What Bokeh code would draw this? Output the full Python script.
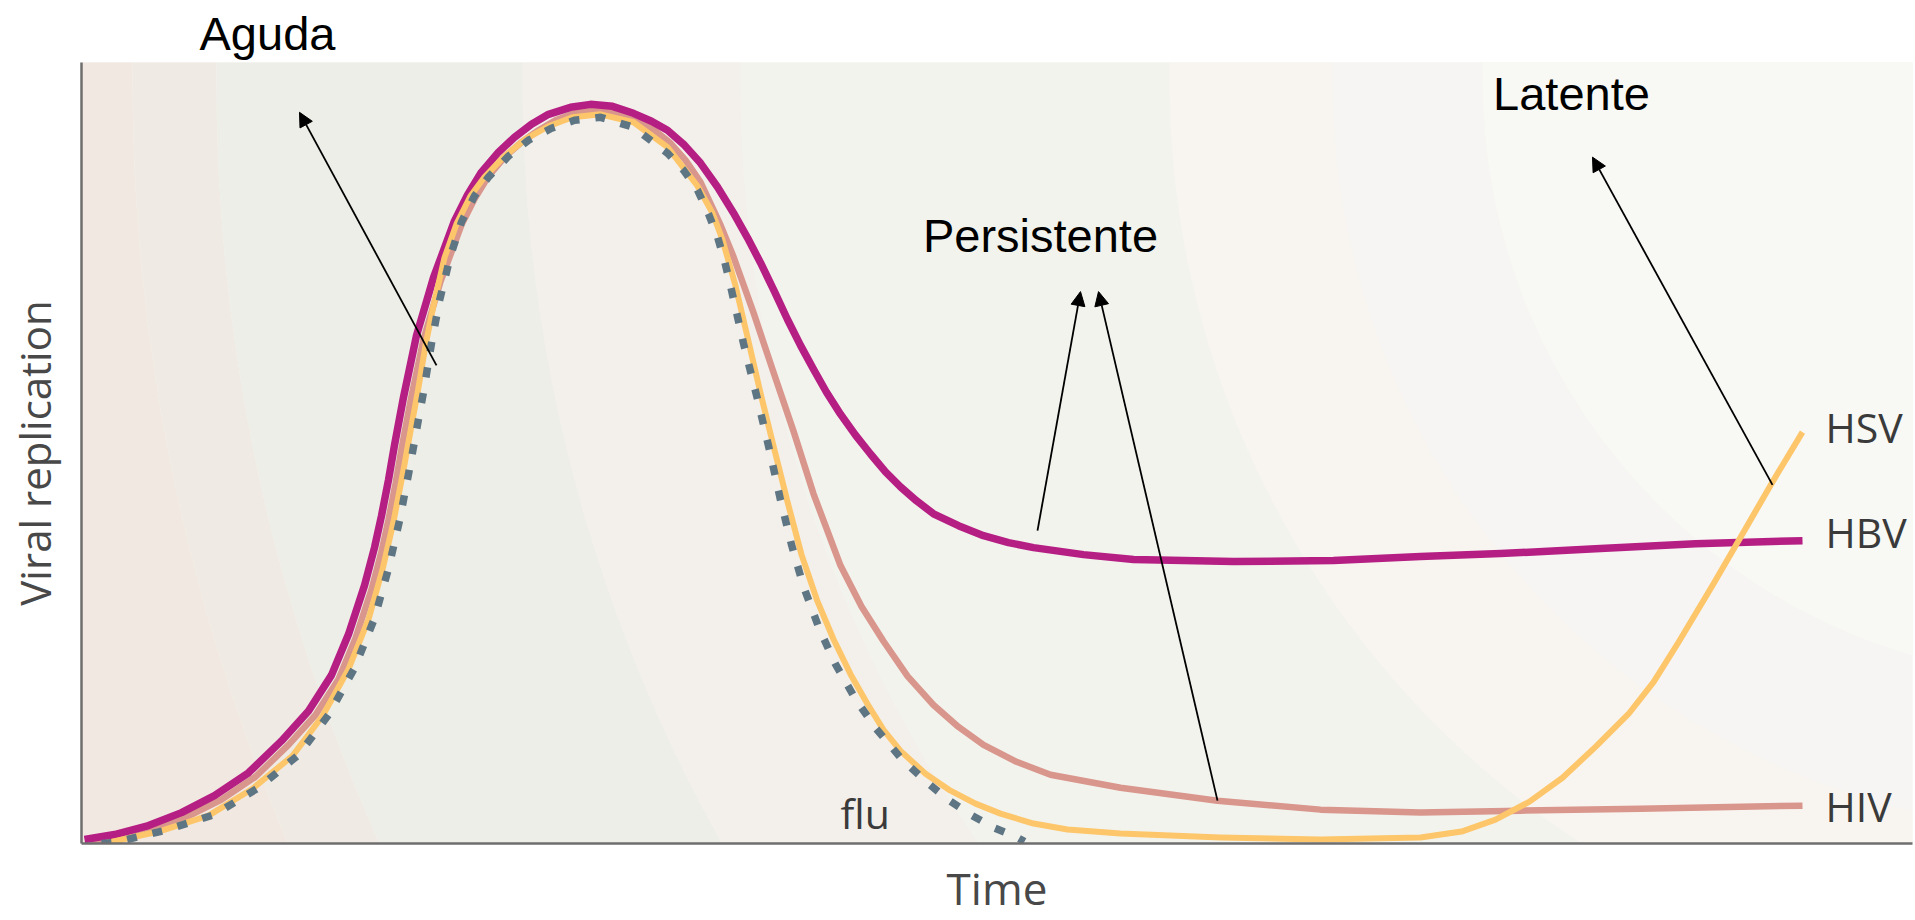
from bokeh.plotting import figure
from bokeh.models import Range1d, Label, Arrow, NormalHead, FixedTicker
from bokeh.embed import file_html
from bokeh.resources import INLINE

# ---- data (arbitrary units: time 0..1831, viral replication 0..784) ----
hbv_t = [3, 33, 67, 100, 133, 167, 200, 227, 250, 267, 283, 293, 300, 307, 313, 322, 335, 352, 373, 386,
         400, 417, 433, 450, 467, 489, 509, 531, 552, 570, 586, 603, 619, 636, 652, 666, 679, 693, 706, 719,
         732, 745, 759, 774, 789, 804, 819, 835, 852, 877, 902, 927, 952, 1002, 1052, 1102, 1152, 1252, 1339, 1419,
         1514, 1614, 1721]
hbv_r = [4, 9, 18, 31, 48, 71, 103, 133, 169, 210, 259, 297, 329, 365, 400, 448, 510, 568, 625, 651,
         674, 694, 709, 722, 732, 739, 742, 740, 733, 725, 716, 701, 683, 659, 633, 608, 583, 554, 526, 500,
         476, 453, 431, 410, 391, 373, 358, 344, 331, 319, 309, 302, 297, 290, 285, 284, 283, 284, 288, 291,
         296, 301, 304]

hiv_t = [8, 38, 72, 106, 140, 174, 207, 234, 257, 274, 290, 300, 307, 314, 320, 329, 342, 359, 380, 393,
         407, 424, 440, 457, 474, 495, 512, 535, 556, 573, 588, 604, 619, 639, 652, 672, 692, 712, 732, 759,
         780, 802, 826, 852, 877, 902, 935, 969, 1039, 1136, 1239, 1339, 1439, 1559, 1721]
hiv_r = [1, 6, 14, 27, 44, 67, 99, 129, 165, 206, 255, 293, 325, 361, 396, 444, 506, 564, 621, 647,
         670, 690, 704, 716, 726, 734, 736, 733, 726, 716, 704, 686, 664, 621, 589, 533, 473, 414, 351, 279,
         238, 203, 168, 139, 117, 99, 82, 69, 56, 43, 34, 31, 33, 35, 38]

hsv_t = [23, 77, 127, 171, 211, 241, 267, 287, 301, 312, 322, 331, 336, 344, 352, 363, 375, 389, 403, 423,
         444, 467, 491, 519, 552, 586, 616, 631, 641, 654, 667, 680, 693, 706, 720, 736, 752, 769, 786, 802,
         819, 844, 869, 894, 919, 952, 986, 1039, 1139, 1239, 1339, 1380, 1414, 1448, 1481, 1514, 1547, 1572, 1597, 1631,
         1664, 1691, 1721]
hsv_r = [0, 12, 28, 55, 88, 128, 175, 225, 275, 323, 375, 425, 452, 500, 540, 588, 622, 650, 669, 690,
         707, 720, 729, 732, 724, 699, 660, 633, 606, 560, 504, 448, 395, 343, 290, 243, 205, 170, 140, 114,
         93, 70, 53, 40, 30, 20, 14, 10, 6, 4, 6, 12, 24, 42, 66, 97, 130, 162, 202, 259,
         316, 363, 413]

flu_t = [20, 33, 83, 133, 177, 217, 247, 273, 293, 307, 318, 328, 337, 342, 350, 358, 369, 380, 393, 407,
         427, 447, 470, 493, 519, 552, 586, 602, 616, 627, 636, 643, 649, 662, 676, 688, 699, 710, 722, 738,
         754, 774, 794, 820, 847, 868, 889, 912, 936, 943]
flu_r = [0, 1, 13, 29, 56, 89, 129, 176, 226, 276, 324, 376, 426, 453, 502, 545, 590, 624, 650, 669,
         690, 706, 718, 726, 729, 719, 693, 676, 656, 632, 609, 585, 560, 502, 446, 395, 345, 300, 258, 215,
         180, 145, 116, 85, 60, 43, 29, 16, 6, 2]

virus_labels = ["HSV", "HBV", "HIV"]
virus_label_r = [418, 313, 38]

phase_labels = ["Persistente", "Latente"]
phase_label_t = [959, 1490]
phase_label_r = [610, 753]

# arrows: start -> end
arrow_start_t = [355, 956, 1136, 1691]
arrow_start_r = [480, 314, 43, 360]
arrow_end_t = [218, 999, 1017, 1511]
arrow_end_r = [734, 554, 554, 689]

# soft background bands (rings around a centre near the upper right)
band_inner = [1950, 1866, 1560, 1342, 913, 750, 600, 0]
band_outer = [2500, 1950, 1866, 1560, 1342, 913, 750, 600]
band_color = ["#f1e8e1", "#efebe4", "#eeeee8", "#f3efea", "#f3f3ee", "#f8f5f0", "#f7f5f3", "#f8f8f4"]

p = figure(width=1915, height=920, output_backend="svg", toolbar_location=None,
           x_range=Range1d(0, 1831), y_range=Range1d(0, 784),
           min_border_left=81, min_border_right=3, min_border_top=62, min_border_bottom=74)
p.background_fill_color = "#f3f3ee"
p.border_fill_color = "white"
p.outline_line_color = None
p.grid.visible = False

# title used for the "Aguda" phase label above the frame
p.title.text = "Aguda"
p.title.align = "left"
p.title.offset = 118
p.title.standoff = 5
p.title.text_font = "Liberation Sans"
p.title.text_font_size = "47px"
p.title.text_font_style = "normal"
p.title.text_color = "black"

p.annulus(x=[2001] * len(band_inner), y=[766] * len(band_inner),
          inner_radius=band_inner, outer_radius=band_outer,
          fill_color=band_color, line_color=None)

p.line(hiv_t, hiv_r, line_color="#d9968c", line_width=6.5, line_join="round")
p.line(hbv_t, hbv_r, line_color="#b51f83", line_width=7.5, line_join="round")
p.line(hsv_t, hsv_r, line_color="#fdc66a", line_width=6, line_join="round")
p.line(flu_t, flu_r, line_color="#5e7584", line_width=7.5, line_dash="10 16", line_join="round")

for name, r in zip(virus_labels, virus_label_r):
    p.add_layout(Label(x=1744, y=r, text=name, text_align="left", text_baseline="alphabetic",
                       text_font="Open Sans", text_font_size="41px", text_color="#3a3a3a"))
p.add_layout(Label(x=759, y=31, text="flu", text_align="left", text_baseline="alphabetic",
                   text_font="Open Sans", text_font_size="41px", text_color="#3a3a3a"))

for name, t, r in zip(phase_labels, phase_label_t, phase_label_r):
    p.add_layout(Label(x=t, y=r, text=name, text_align="center", text_baseline="alphabetic",
                       text_font="Liberation Sans", text_font_size="47px", text_color="black"))

for xs, ys, xe, ye in zip(arrow_start_t, arrow_start_r, arrow_end_t, arrow_end_r):
    p.add_layout(Arrow(end=NormalHead(size=14, fill_color="black", line_color="black"),
                       x_start=xs, y_start=ys, x_end=xe, y_end=ye,
                       line_color="black", line_width=1.8))

for ax in (p.xaxis[0], p.yaxis[0]):
    ax.ticker = FixedTicker(ticks=[])
    ax.major_tick_line_color = None
    ax.minor_tick_line_color = None
    ax.major_tick_out = 0
    ax.major_tick_in = 0
    ax.minor_tick_out = 0
    ax.major_label_standoff = 0
    ax.major_label_text_font_size = "0px"
    ax.axis_line_color = "#6e6e6e"
    ax.axis_line_width = 2.5
    ax.axis_label_text_font = "Open Sans"
    ax.axis_label_text_font_style = "normal"
    ax.axis_label_text_color = "#484848"

p.xaxis.axis_label = "Time"
p.xaxis.axis_label_text_font_size = "44px"
p.xaxis.axis_label_standoff = 14
p.yaxis.axis_label = "Viral replication"
p.yaxis.axis_label_text_font_size = "42px"
p.yaxis.axis_label_standoff = 19

open("out.html", "w").write(file_html(p, INLINE))
